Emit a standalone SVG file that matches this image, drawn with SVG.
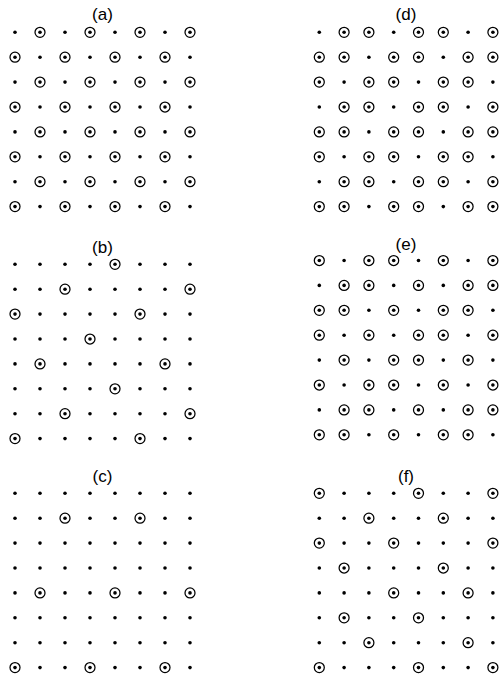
<svg xmlns="http://www.w3.org/2000/svg" xmlns:xlink="http://www.w3.org/1999/xlink" width="502" height="677" viewBox="0 0 502 677">
<style>
.lbl{font-family:"Liberation Sans",Arial,sans-serif;font-size:17px;fill:#000;text-anchor:middle}
.ring{fill:none;stroke:#000;stroke-width:1.25}
.dot{fill:#000}
</style>
<defs>
<circle id="c" class="ring" cx="0" cy="0" r="5"/>
<g id="rL"><circle class="dot" cx="15" cy="0" r="1.8"/><circle class="dot" cx="40" cy="0" r="1.8"/><circle class="dot" cx="65" cy="0" r="1.8"/><circle class="dot" cx="90" cy="0" r="1.8"/><circle class="dot" cx="115" cy="0" r="1.8"/><circle class="dot" cx="140" cy="0" r="1.8"/><circle class="dot" cx="165" cy="0" r="1.8"/><circle class="dot" cx="190" cy="0" r="1.8"/></g>
<g id="rR"><circle class="dot" cx="319.3" cy="0" r="1.8"/><circle class="dot" cx="344.1" cy="0" r="1.8"/><circle class="dot" cx="368.9" cy="0" r="1.8"/><circle class="dot" cx="393.7" cy="0" r="1.8"/><circle class="dot" cx="418.5" cy="0" r="1.8"/><circle class="dot" cx="443.3" cy="0" r="1.8"/><circle class="dot" cx="468.1" cy="0" r="1.8"/><circle class="dot" cx="492.9" cy="0" r="1.8"/></g>
</defs>
<rect width="502" height="677" fill="#fff"/>

<g id="panel-a">
<text class="lbl" x="102.5" y="20">(a)</text>
<g transform="translate(0,32.3)"><use href="#rL"/><use href="#c" x="40"/><use href="#c" x="90"/><use href="#c" x="140"/><use href="#c" x="190"/></g>
<g transform="translate(0,57.2)"><use href="#rL"/><use href="#c" x="15"/><use href="#c" x="65"/><use href="#c" x="115"/><use href="#c" x="165"/></g>
<g transform="translate(0,82.1)"><use href="#rL"/><use href="#c" x="40"/><use href="#c" x="90"/><use href="#c" x="140"/><use href="#c" x="190"/></g>
<g transform="translate(0,107)"><use href="#rL"/><use href="#c" x="15"/><use href="#c" x="65"/><use href="#c" x="115"/><use href="#c" x="165"/></g>
<g transform="translate(0,131.9)"><use href="#rL"/><use href="#c" x="40"/><use href="#c" x="90"/><use href="#c" x="140"/><use href="#c" x="190"/></g>
<g transform="translate(0,156.8)"><use href="#rL"/><use href="#c" x="15"/><use href="#c" x="65"/><use href="#c" x="115"/><use href="#c" x="165"/></g>
<g transform="translate(0,181.7)"><use href="#rL"/><use href="#c" x="40"/><use href="#c" x="90"/><use href="#c" x="140"/><use href="#c" x="190"/></g>
<g transform="translate(0,206.6)"><use href="#rL"/><use href="#c" x="15"/><use href="#c" x="65"/><use href="#c" x="115"/><use href="#c" x="165"/></g>
</g>

<g id="panel-d">
<text class="lbl" x="406" y="20">(d)</text>
<g transform="translate(0,32.3)"><use href="#rR"/><use href="#c" x="344.1"/><use href="#c" x="368.9"/><use href="#c" x="418.5"/><use href="#c" x="443.3"/><use href="#c" x="492.9"/></g>
<g transform="translate(0,57.2)"><use href="#rR"/><use href="#c" x="319.3"/><use href="#c" x="344.1"/><use href="#c" x="393.7"/><use href="#c" x="418.5"/><use href="#c" x="468.1"/><use href="#c" x="492.9"/></g>
<g transform="translate(0,82.1)"><use href="#rR"/><use href="#c" x="319.3"/><use href="#c" x="368.9"/><use href="#c" x="393.7"/><use href="#c" x="443.3"/><use href="#c" x="468.1"/></g>
<g transform="translate(0,107)"><use href="#rR"/><use href="#c" x="344.1"/><use href="#c" x="368.9"/><use href="#c" x="418.5"/><use href="#c" x="443.3"/><use href="#c" x="492.9"/></g>
<g transform="translate(0,131.9)"><use href="#rR"/><use href="#c" x="319.3"/><use href="#c" x="344.1"/><use href="#c" x="393.7"/><use href="#c" x="418.5"/><use href="#c" x="468.1"/><use href="#c" x="492.9"/></g>
<g transform="translate(0,156.8)"><use href="#rR"/><use href="#c" x="319.3"/><use href="#c" x="368.9"/><use href="#c" x="393.7"/><use href="#c" x="443.3"/><use href="#c" x="468.1"/></g>
<g transform="translate(0,181.7)"><use href="#rR"/><use href="#c" x="344.1"/><use href="#c" x="368.9"/><use href="#c" x="418.5"/><use href="#c" x="443.3"/><use href="#c" x="492.9"/></g>
<g transform="translate(0,206.6)"><use href="#rR"/><use href="#c" x="319.3"/><use href="#c" x="344.1"/><use href="#c" x="393.7"/><use href="#c" x="418.5"/><use href="#c" x="468.1"/><use href="#c" x="492.9"/></g>
</g>

<g id="panel-b">
<text class="lbl" x="102.5" y="253">(b)</text>
<g transform="translate(0,264.3)"><use href="#rL"/><use href="#c" x="115"/></g>
<g transform="translate(0,289.2)"><use href="#rL"/><use href="#c" x="65"/><use href="#c" x="190"/></g>
<g transform="translate(0,314.1)"><use href="#rL"/><use href="#c" x="15"/><use href="#c" x="140"/></g>
<g transform="translate(0,339)"><use href="#rL"/><use href="#c" x="90"/></g>
<g transform="translate(0,363.9)"><use href="#rL"/><use href="#c" x="40"/><use href="#c" x="165"/></g>
<g transform="translate(0,388.8)"><use href="#rL"/><use href="#c" x="115"/></g>
<g transform="translate(0,413.7)"><use href="#rL"/><use href="#c" x="65"/><use href="#c" x="190"/></g>
<g transform="translate(0,438.6)"><use href="#rL"/><use href="#c" x="15"/><use href="#c" x="140"/></g>
</g>

<g id="panel-e">
<text class="lbl" x="406" y="250">(e)</text>
<g transform="translate(0,260.5)"><use href="#rR"/><use href="#c" x="319.3"/><use href="#c" x="368.9"/><use href="#c" x="393.7"/><use href="#c" x="443.3"/><use href="#c" x="492.9"/></g>
<g transform="translate(0,285.4)"><use href="#rR"/><use href="#c" x="344.1"/><use href="#c" x="368.9"/><use href="#c" x="418.5"/><use href="#c" x="468.1"/><use href="#c" x="492.9"/></g>
<g transform="translate(0,310.3)"><use href="#rR"/><use href="#c" x="319.3"/><use href="#c" x="344.1"/><use href="#c" x="393.7"/><use href="#c" x="443.3"/><use href="#c" x="468.1"/></g>
<g transform="translate(0,335.2)"><use href="#rR"/><use href="#c" x="319.3"/><use href="#c" x="368.9"/><use href="#c" x="418.5"/><use href="#c" x="443.3"/><use href="#c" x="492.9"/></g>
<g transform="translate(0,360.1)"><use href="#rR"/><use href="#c" x="344.1"/><use href="#c" x="393.7"/><use href="#c" x="418.5"/><use href="#c" x="468.1"/></g>
<g transform="translate(0,385)"><use href="#rR"/><use href="#c" x="319.3"/><use href="#c" x="368.9"/><use href="#c" x="393.7"/><use href="#c" x="443.3"/><use href="#c" x="492.9"/></g>
<g transform="translate(0,409.9)"><use href="#rR"/><use href="#c" x="344.1"/><use href="#c" x="368.9"/><use href="#c" x="418.5"/><use href="#c" x="468.1"/><use href="#c" x="492.9"/></g>
<g transform="translate(0,434.8)"><use href="#rR"/><use href="#c" x="319.3"/><use href="#c" x="344.1"/><use href="#c" x="393.7"/><use href="#c" x="443.3"/><use href="#c" x="468.1"/></g>
</g>

<g id="panel-c">
<text class="lbl" x="102.5" y="482">(c)</text>
<g transform="translate(0,493.3)"><use href="#rL"/></g>
<g transform="translate(0,518.2)"><use href="#rL"/><use href="#c" x="65"/><use href="#c" x="140"/></g>
<g transform="translate(0,543.1)"><use href="#rL"/></g>
<g transform="translate(0,568)"><use href="#rL"/></g>
<g transform="translate(0,592.9)"><use href="#rL"/><use href="#c" x="40"/><use href="#c" x="115"/><use href="#c" x="190"/></g>
<g transform="translate(0,617.8)"><use href="#rL"/></g>
<g transform="translate(0,642.7)"><use href="#rL"/></g>
<g transform="translate(0,667.6)"><use href="#rL"/><use href="#c" x="15"/><use href="#c" x="90"/><use href="#c" x="165"/></g>
</g>

<g id="panel-f">
<text class="lbl" x="406" y="482">(f)</text>
<g transform="translate(0,493.3)"><use href="#rR"/><use href="#c" x="319.3"/><use href="#c" x="418.5"/><use href="#c" x="492.9"/></g>
<g transform="translate(0,518.2)"><use href="#rR"/><use href="#c" x="368.9"/><use href="#c" x="443.3"/></g>
<g transform="translate(0,543.1)"><use href="#rR"/><use href="#c" x="319.3"/><use href="#c" x="393.7"/><use href="#c" x="492.9"/></g>
<g transform="translate(0,568)"><use href="#rR"/><use href="#c" x="344.1"/><use href="#c" x="443.3"/></g>
<g transform="translate(0,592.9)"><use href="#rR"/><use href="#c" x="393.7"/><use href="#c" x="468.1"/></g>
<g transform="translate(0,617.8)"><use href="#rR"/><use href="#c" x="344.1"/><use href="#c" x="418.5"/></g>
<g transform="translate(0,642.7)"><use href="#rR"/><use href="#c" x="368.9"/><use href="#c" x="468.1"/></g>
<g transform="translate(0,667.6)"><use href="#rR"/><use href="#c" x="319.3"/><use href="#c" x="418.5"/><use href="#c" x="492.9"/></g>
</g>
</svg>
